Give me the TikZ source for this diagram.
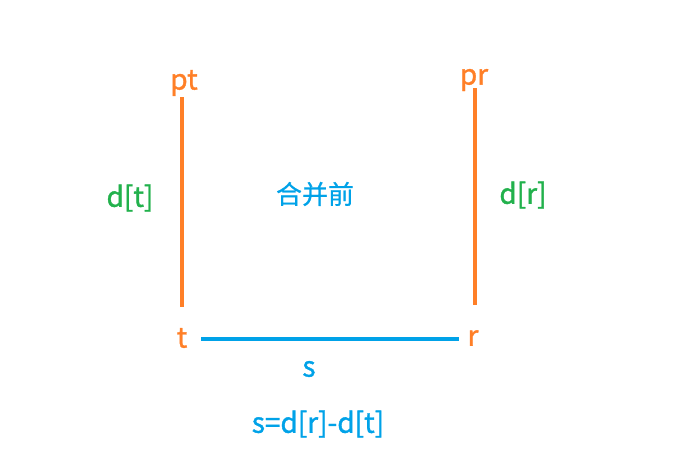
\documentclass[tikz,border=0pt]{standalone}
\usepackage{fontspec}
\setmainfont{Noto Sans CJK SC}[FakeBold=1.2]
\newfontfamily\cjkText{Noto Sans CJK SC}[FakeBold=0.6]
\usetikzlibrary{positioning}
\definecolor{pointColor}{RGB}{255,127,39}
\definecolor{segmentColor}{RGB}{0,162,232}
\definecolor{distColor}{RGB}{34,177,76}
\tikzstyle{canvas} = [x = 1pt, y = -1pt]
\tikzstyle{bigText} = [font=\fontsize{28}{32}\selectfont, inner sep=0pt]
\tikzstyle{pointText} = [bigText, color=pointColor]
\tikzstyle{distText} = [bigText, color=distColor]
\tikzstyle{segmentText} = [bigText, color=segmentColor]
\tikzstyle{pointLine} = [color=pointColor, line width=3.2pt]
\tikzstyle{segmentLine} = [color=segmentColor, line width=3.2pt]

\begin{document}
\begin{tikzpicture}[canvas]
    \useasboundingbox (0,0) rectangle (698,464);
    \node [pointText] (pt) at (184,83) {pt};
    \node [pointText] (pr) at (474,80) {pr};
    \node [pointText] (t) at (182,338) {t};
    \node [pointText] (r) at (473,338) {r};
    \node [distText] (dt) at (130,198) {d[t]};
    \node [distText] (dr) at (523,195) {d[r]};
    \node [segmentText, font=\cjkText\fontsize{26}{30}\selectfont] (title) at (315,194) {合并前};
    \node [segmentText] (s) at (309,369) {s};
    \node [segmentText] (eq) at (318,424) {s=d[r]-d[t]};
    \draw [pointLine, shorten <=14pt, shorten >=31pt] (pt.center -| t.center) -- (t.center);
    \draw [pointLine, shorten <=8pt, shorten >=33pt] (pr.center -| 475,0) -- (r.center -| 475,0);
    \draw [segmentLine, shorten <=19pt, shorten >=14pt] ([yshift=-1pt]t.center) -- ([yshift=-1pt]r.center);
\end{tikzpicture}
\end{document}
